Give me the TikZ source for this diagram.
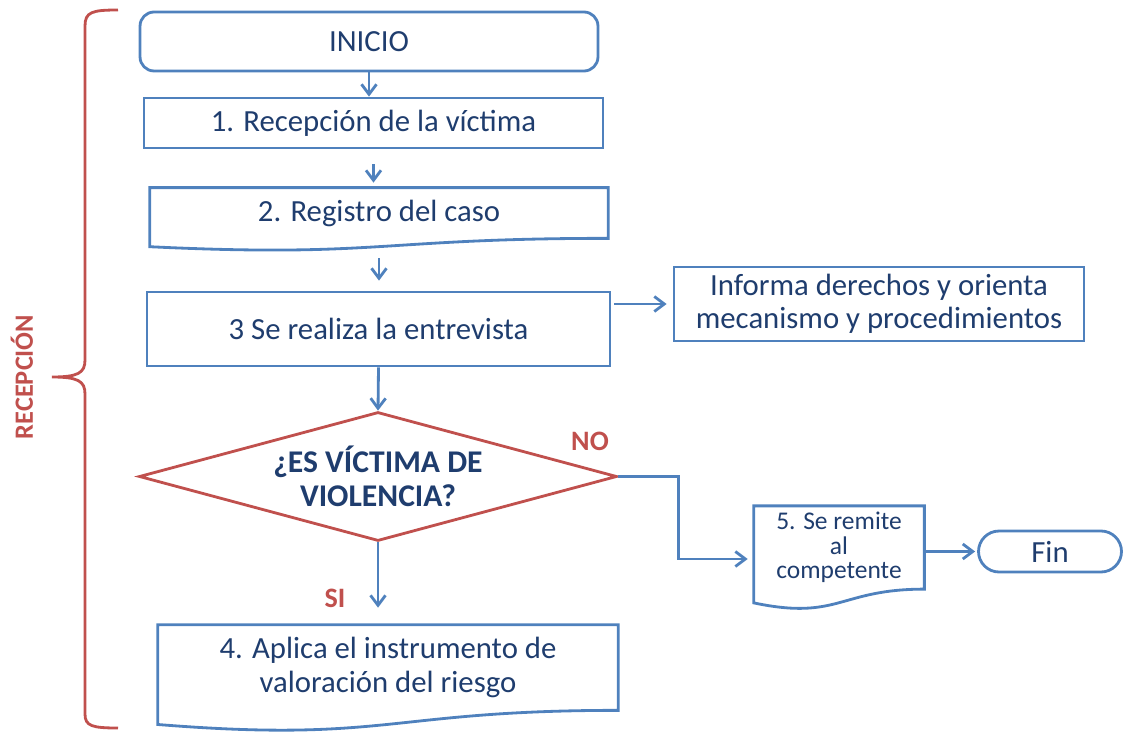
\documentclass[tikz,border=0pt]{standalone}
\usepackage{fontspec}
\setmainfont{Carlito}
\usetikzlibrary{shapes.geometric,arrows.meta,calc}
\definecolor{azulborde}{HTML}{4F81BD}
\definecolor{azultexto}{HTML}{1F3D6E}
\definecolor{rojo}{HTML}{C0504D}
% contorno de documento (borde inferior ondulado)
\newcommand{\bordedoc}[1]{%
	\draw[borde] (#1.north west) -- (#1.north east) -- (#1.south east)
		.. controls (#1.south) and ($(#1.south)!-0.381!(#1.north)$)
		.. ($(#1.south west)!-0.165!(#1.north west)$) -- cycle;}
\begin{document}
\begin{tikzpicture}[
				x=0.02cm, y=-0.02cm,
				borde/.style={draw=azulborde, line width=1.6pt},
				caja/.style={borde, text=azultexto, align=center, font=\fontsize{17.5pt}{19pt}\selectfont},
				doc/.style={text=azultexto, align=center, font=\fontsize{17.5pt}{19pt}\selectfont},
				decision/.style={diamond, draw=rojo, line width=1.6pt, aspect=3.7, inner sep=0pt, text=azultexto, align=center, font=\fontsize{18pt}{19pt}\selectfont\bfseries},
				flecha/.style={draw=azulborde, line width=1.6pt, -{Straight Barb[length=2mm, width=3mm]}},
				etiqueta/.style={text=rojo, font=\fontsize{16pt}{18pt}\selectfont\bfseries},
				llave/.style={draw=rojo, line width=1.6pt}
				]
				\useasboundingbox (0,0) rectangle (1131,733);
				% pasos
				\node[caja, rounded corners=0.28cm, minimum width=9.16cm, minimum height=1.18cm] (inicio) at (369,41.5) {INICIO};
				\node[caja, minimum width=9.18cm, minimum height=1cm] (recepcion) at (373.5,123) {1. Recepción de la víctima};
				\node[doc, minimum width=9.16cm, minimum height=1cm] (registro) at (379,213) {2. Registro del caso};
				\bordedoc{registro}
				\node[caja, minimum width=9.26cm, minimum height=1.48cm] (entrevista) at (378.5,329) {3 Se realiza la entrevista};
				\node[caja, minimum width=8.2cm, minimum height=1.48cm] (informa) at (879,304) {Informa derechos y orienta\\mecanismo y procedimientos};
				\node[decision, minimum width=9.56cm, minimum height=2.58cm] (victima) at (378,476.5) {¿ES VÍCTIMA DE\\VIOLENCIA?};
				\node[doc, minimum width=9.2cm, minimum height=1.7cm] (riesgo) at (388,667.5) {4. Aplica el instrumento de\\valoración del riesgo};
				\bordedoc{riesgo}
				\node[doc, minimum width=3.4cm, minimum height=1.42cm, font=\fontsize{14.5pt}{14pt}\selectfont] (remite) at (839,547.5) {5. Se remite\\al\\competente};
				\bordedoc{remite}
				\node[caja, rounded corners=0.41cm, minimum width=2.86cm, minimum height=0.82cm] (fin) at (1050,551.5) {Fin};
				% etiquetas
				\node[etiqueta] (no) at (590,441) {NO};
				\node[etiqueta] (si) at (335,598) {SI};
				\node[etiqueta, rotate=90, font=\fontsize{15pt}{17pt}\selectfont\bfseries] (fase) at (22,377) {RECEPCIÓN};
				% flechas
				\draw[flecha] (inicio.south) -- (inicio.south |- recepcion.north);
				\draw[flecha, shorten <=0.3cm, shorten >=0.1cm] (recepcion.south) -- (recepcion.south |- registro.north);
				\draw[flecha, shorten <=0.4cm, shorten >=0.2cm] (registro.south) -- (registro.south |- entrevista.north);
				\draw[flecha, shorten <=0.06cm, shorten >=0.12cm] (entrevista.east |- informa.west) -- (informa.west);
				\draw[flecha] (entrevista.south) -- (victima.north);
				\draw[flecha, shorten >=0.12cm] (victima.east) -- ++(60,0) |- ([yshift=-0.23cm]remite.west);
				\draw[flecha, shorten >=0.04cm] (remite.east |- fin.west) -- (fin.west);
				\draw[flecha, shorten >=0.34cm] (victima.south) -- (victima.south |- riesgo.north);
				% llave
				\draw[llave] (118,10) .. controls (92,10) and (85,12) .. (85,26) -- (85,360)
					.. controls (85,373) and (78,377) .. (52,377)
					.. controls (78,377) and (85,381) .. (85,394) -- (85,714)
					.. controls (85,726) and (92,728) .. (118,728);
			\end{tikzpicture}
\end{document}
